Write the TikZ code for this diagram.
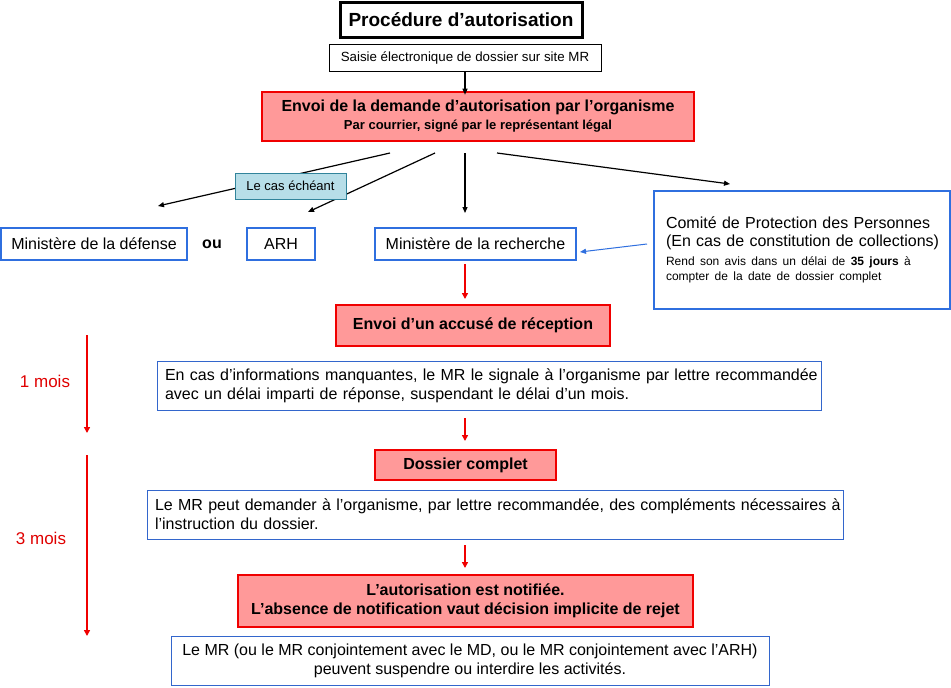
\documentclass[tikz,border=0pt]{standalone}
\usepackage{fontspec}
\setmainfont{Liberation Sans}
\usetikzlibrary{arrows.meta}
\setlength\parindent{0pt}
\definecolor{rfill}{HTML}{FF9999}
\definecolor{rline}{HTML}{F00000}
\definecolor{bline}{HTML}{2F6FDF}
\definecolor{tline}{HTML}{3366CC}
\definecolor{cfill}{HTML}{B7DEE8}
\definecolor{cline}{HTML}{31849B}
\definecolor{mred}{HTML}{E00000}
\newcommand{\sz}[2]{\fontsize{#1}{#2}\selectfont}
\begin{document}
\begin{tikzpicture}[x=1pt,y=-1pt,
  redbox/.style={draw=rline, line width=2.6pt, fill=rfill, inner sep=0pt, align=center, font=\bfseries\sz{16}{19}},
  bluebox/.style={draw=bline, line width=2pt, fill=white, inner sep=0pt, minimum height=32, font=\sz{16}{19}},
  textbox/.style={draw=tline, line width=0.9pt, fill=white, inner xsep=8pt, inner ysep=0pt, font=\sz{16}{19}},
  blk/.style={line width=1.2pt, -{Triangle[length=6pt,width=5pt]}},
  redarr/.style={draw=rline, line width=1.8pt, -{Triangle[length=6pt,width=6pt]}},
  bluearr/.style={draw=bline, line width=1pt, -{Triangle[length=6pt,width=5pt]}},
  month/.style={text=mred, font=\sz{17}{20}}
]
\fill[white] (0,0) rectangle (951,688);
\useasboundingbox (0,0) rectangle (951,688);

% title and first steps
\node[draw, line width=3pt, minimum width=242, minimum height=35, inner sep=0pt, font=\bfseries\sz{19}{22}] (title) at (461,19.5) {Procédure d’autorisation};
\node[draw, line width=0.8pt, minimum width=272, minimum height=27, inner sep=0pt, font=\sz{13.3}{15}] (saisie) at (465,57.5) {Saisie électronique de dossier sur site MR};
\node[redbox, minimum width=432, minimum height=49] (demande) at (478,116.5) {Envoi de la demande d’autorisation par l’organisme\\[-1pt] {\sz{13}{15}Par courrier, signé par le représentant légal}};
\draw[blk] (saisie.south) -- ([yshift=-4pt]saisie.south |- demande.north);

% recipients
\node[bluebox, minimum width=186] (mdef) at (94,244) {Ministère de la défense};
\node[font=\bfseries\sz{16}{19}] (ou) at (212,244) {ou};
\node[bluebox, minimum width=68] (arh) at (281,244) {ARH};
\node[bluebox, minimum width=201] (mrech) at (475.5,244) {Ministère de la recherche};
\node[bluebox, minimum width=296, minimum height=118, inner xsep=12pt, text width=272, align=left] (cpp) at (802,250) {\sz{16}{18}\mbox{Comité de Protection des Personnes}\par\mbox{(En cas de constitution de collections)}\par\sz{12}{19}\mbox{Rend son avis dans un délai de \textbf{35 jours} à}\par\sz{12}{15}\mbox{compter de la date de dossier complet}\par};

\coordinate (s1) at (390,153); \coordinate (e1) at (158,206);
\coordinate (s2) at (435,153); \coordinate (e2) at (308,212);
\coordinate (s3) at (465,153); \coordinate (e3) at (465,213);
\coordinate (s4) at (497,153); \coordinate (e4) at (730,184);
\draw[blk] (s1) -- (e1);
\draw[blk] (s2) -- (e2);
\draw[blk] (s3) -- (e3);
\draw[blk] (s4) -- (e4);
\node[draw=cline, fill=cfill, line width=0.8pt, minimum width=111, minimum height=26, inner sep=0pt, font=\sz{13}{15}] (cas) at (290.5,186) {Le cas échéant};

\coordinate (b1) at (647,244); \coordinate (b2) at (580,252);
\draw[bluearr] (b1) -- (b2);

% main chain
\node[redbox, minimum width=274, minimum height=41] (accuse) at (473,325.5) {Envoi d’un accusé de réception};
\coordinate (r1s) at (465,264); \coordinate (r1e) at (465,299);
\draw[redarr] (r1s) -- (r1e);

\node[textbox, minimum height=49, text width=648, align=left] (encas) at (489,385.5) {\mbox{En cas d’informations manquantes, le MR le signale à l’organisme par lettre recommandée}\\ \mbox{avec un délai imparti de réponse, suspendant le délai d’un mois.}};
\coordinate (r2s) at (465,418); \coordinate (r2e) at (465,441);
\draw[redarr] (r2s) -- (r2e);

\node[redbox, minimum width=181, minimum height=30] (dossier) at (465.5,465) {Dossier complet};

\node[textbox, minimum height=49, text width=680, align=left] (lemr) at (495,514.5) {\mbox{Le MR peut demander à l'organisme, par lettre recommandée, des compléments nécessaires à}\\ \mbox{l'instruction du dossier.}};
\coordinate (r3s) at (465,545); \coordinate (r3e) at (465,568);
\draw[redarr] (r3s) -- (r3e);

\node[redbox, minimum width=455, minimum height=52] (autor) at (465.5,601) {L’autorisation est notifiée.\\ L’absence de notification vaut décision implicite de rejet};

\node[textbox, minimum width=598, minimum height=49, align=center] (final) at (470,660.5) {Le MR (ou le MR conjointement avec le MD, ou le MR conjointement avec l’ARH)\\ peuvent suspendre ou interdire les activités.};

% time line
\node[month] (m1) at (45,381) {1 mois};
\node[month] (m3) at (41,538) {3 mois};
\coordinate (t1s) at (87,335); \coordinate (t1e) at (87,433);
\coordinate (t2s) at (87,455); \coordinate (t2e) at (87,636);
\draw[redarr, line width=1.5pt] (t1s) -- (t1e);
\draw[redarr, line width=1.5pt] (t2s) -- (t2e);
\end{tikzpicture}
\end{document}
